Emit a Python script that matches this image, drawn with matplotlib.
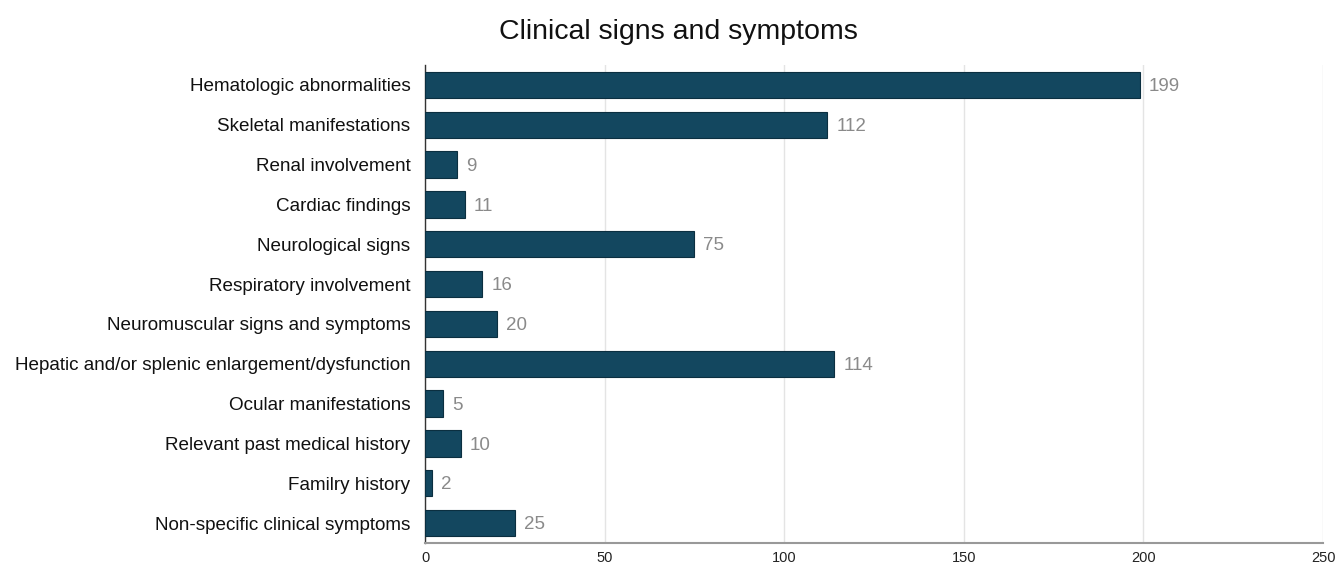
import matplotlib
matplotlib.use("Agg")
import matplotlib.pyplot as plt

categories = [
    "Hematologic abnormalities",
    "Skeletal manifestations",
    "Renal involvement",
    "Cardiac findings",
    "Neurological signs",
    "Respiratory involvement",
    "Neuromuscular signs and symptoms",
    "Hepatic and/or splenic enlargement/dysfunction",
    "Ocular manifestations",
    "Relevant past medical history",
    "Familry history",
    "Non-specific clinical symptoms",
]
values = [199, 112, 9, 11, 75, 16, 20, 114, 5, 10, 2, 25]
xticks = [0, 50, 100, 150, 200, 250]
title = "Clinical signs and symptoms"

plt.rcParams['font.family'] = ['Liberation Sans', 'DejaVu Sans']

fig = plt.figure(figsize=(13.38, 5.68), dpi=100)
ax = fig.add_axes([425/1338, 25/568, (1323-425)/1338, (543-65)/568])

y = list(range(len(categories)))
ax.barh(y, values, height=0.66, color="#13475f", edgecolor="#0b2f40", linewidth=0.8, zorder=3)
for yi, v in zip(y, values):
    ax.text(v + 2.5, yi + 0.04, str(v), va="center", ha="left", fontsize=13.5, color="#8a8a8a")

ax.set_ylim(len(categories) - 0.5, -0.5)
ax.set_xlim(0, 250)
ax.set_yticks(y)
ax.set_yticklabels(categories, fontsize=13.55, color="#111111")
ax.set_xticks(xticks)
ax.set_xticklabels([str(t) for t in xticks], fontsize=10.5, color="#222222")
ax.tick_params(axis="y", length=0, pad=10.5)
ax.tick_params(axis="x", length=0, pad=5.5)
ax.grid(axis="x", color="#e4e4e4", linewidth=1, zorder=0)
for s in ["top", "right"]:
    ax.spines[s].set_visible(False)
ax.spines["left"].set_color("#333333")
ax.spines["left"].set_linewidth(1)
ax.spines["bottom"].set_color("#999999")
ax.spines["bottom"].set_linewidth(1.5)

fig.text(678/1338, 1 - 32/568, title, ha="center", va="center", fontsize=20.5, color="#111111")

fig.savefig("out.png", dpi=100, facecolor="white")
